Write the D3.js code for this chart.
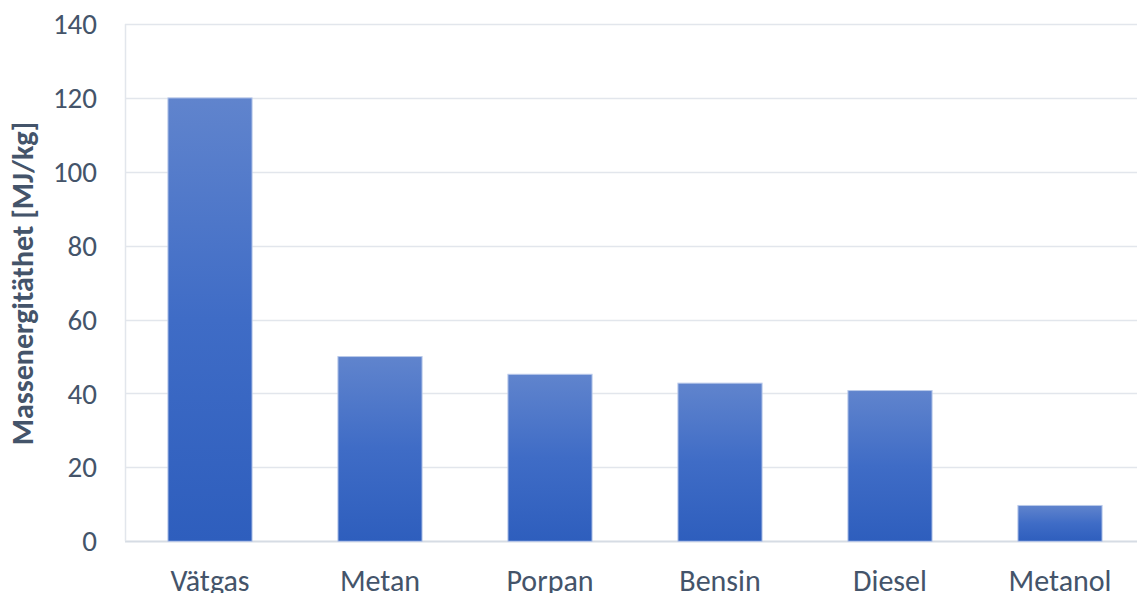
<!DOCTYPE html>
<html>
<head>
<meta charset="utf-8">
<script src="https://cdn.jsdelivr.net/npm/d3@7"></script>
<style>
  html, body { margin: 0; padding: 0; background: #fff; overflow: hidden; }
  svg { display: block; }
  text { font-family: Carlito, Calibri, "Open Sans", sans-serif; }
</style>
</head>
<body>
<div id="chart"></div>
<script>
var categories = ["Vätgas", "Metan", "Porpan", "Bensin", "Diesel", "Metanol"];
var values = [120, 50, 45.2, 42.8, 40.8, 9.7];
var yTicks = [0, 20, 40, 60, 80, 100, 120, 140];
var yTitle = "Massenergitäthet [MJ/kg]";

(function () {
    var width = 1137, height = 593;
    var plotLeft = 125, plotRight = 1145, plotTop = 24, plotBottom = 541.3;

    var svg = d3.select("#chart").append("svg")
        .attr("width", width)
        .attr("height", height);

    var grad = svg.append("defs").append("linearGradient")
        .attr("id", "barGrad")
        .attr("x1", 0).attr("y1", 0).attr("x2", 0).attr("y2", 1);
    grad.append("stop").attr("offset", "0%").attr("stop-color", "#6084cd");
    grad.append("stop").attr("offset", "50%").attr("stop-color", "#3f6cc6");
    grad.append("stop").attr("offset", "100%").attr("stop-color", "#2e5ebd");

    var x = d3.scaleBand().domain(categories).range([plotLeft, plotRight])
        .paddingInner(0.505).paddingOuter(0.2525);
    var y = d3.scaleLinear().domain([0, 140]).range([plotBottom, plotTop]);

    // gridlines
    svg.append("g")
        .attr("class", "grid")
        .selectAll("line")
        .data(yTicks)
        .enter()
        .append("line")
        .attr("x1", plotLeft)
        .attr("x2", width)
        .attr("y1", function (d) { return Math.round(y(d)) + 0.5; })
        .attr("y2", function (d) { return Math.round(y(d)) + 0.5; })
        .style("stroke", function (d) { return d === 0 ? "#d6dce4" : "#e2e6ec"; })
        .style("stroke-width", function (d) { return d === 0 ? 2 : 1.5; });

    // left axis line
    svg.append("line")
        .attr("x1", plotLeft + 0.5).attr("x2", plotLeft + 0.5)
        .attr("y1", y(140)).attr("y2", y(0))
        .style("stroke", "#e2e6ec")
        .style("stroke-width", 1.5);

    // bars
    svg.append("g")
        .selectAll("rect")
        .data(values)
        .enter()
        .append("rect")
        .attr("x", function (d, i) { return x(categories[i]); })
        .attr("width", x.bandwidth())
        .attr("y", function (d) { return y(d); })
        .attr("height", function (d) { return y(0) - y(d); })
        .style("fill", "url(#barGrad)")
        .style("stroke", "#b9c9ea")
        .style("stroke-width", 1);

    // y axis labels
    var yAxis = d3.axisLeft(y).tickValues(yTicks).tickSize(0).tickPadding(0);
    var yg = svg.append("g").attr("transform", "translate(97,0)").call(yAxis);
    yg.select(".domain").remove();
    yg.selectAll("text")
        .style("font-size", "29px")
        .style("fill", "#44546a")
        .attr("dy", "0.33em");

    // x axis labels
    var xAxis = d3.axisBottom(x).tickSize(0).tickPadding(0);
    var xg = svg.append("g").attr("transform", "translate(0,591)").call(xAxis);
    xg.select(".domain").remove();
    xg.selectAll("text")
        .style("font-size", "30px")
        .style("fill", "#44546a")
        .attr("dy", "0");

    // y title
    svg.append("text")
        .attr("transform", "translate(33,283.5) rotate(-90)")
        .attr("text-anchor", "middle")
        .style("font-size", "30px")
        .style("font-weight", "bold")
        .style("fill", "#44546a")
        .text(yTitle);
})();
</script>
</body>
</html>
